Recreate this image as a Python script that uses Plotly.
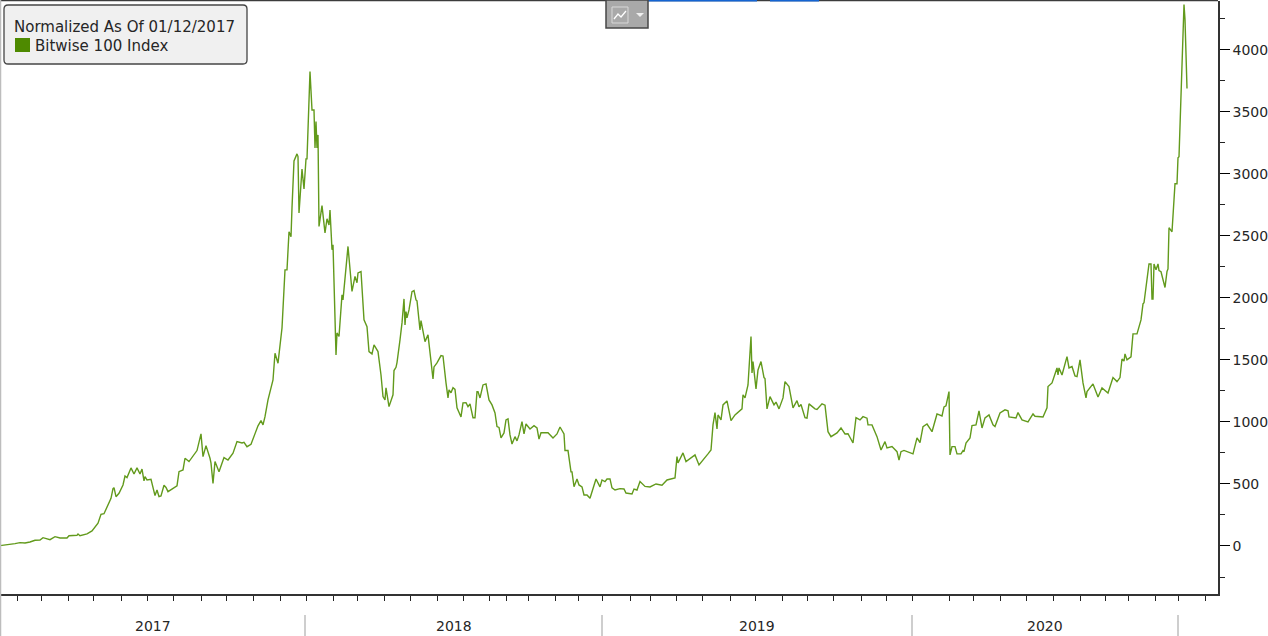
import plotly.graph_objects as go

# Positions along the session axis, and the index level at each of them
session_pos = [
    0, 3, 15, 20, 25, 30, 35, 40, 43, 50, 55, 60, 67, 69, 77, 78, 80, 87, 92, 98,
    101, 104, 108, 111, 113, 114, 116, 119, 123, 125, 127, 131, 134, 137, 140, 142, 144, 145, 147, 151,
    155, 157, 159, 161, 164, 166, 168, 177, 179, 183, 185, 189, 197, 201, 203, 206, 210, 211, 213, 215,
    219, 224, 228, 233, 237, 242, 244, 247, 251, 257, 258, 261, 263, 265, 268, 273, 275, 278, 282, 285,
    287, 289, 291, 292, 294, 297, 298, 299, 302, 304, 306, 307, 309, 310, 312, 314, 315, 316, 317, 318,
    319, 322, 325, 327, 329, 330, 332, 333, 336, 337, 339, 342, 343, 346, 348, 352, 355, 357, 358, 361,
    364, 367, 369, 372, 374, 378, 381, 383, 385, 386, 388, 389, 393, 394, 396, 397, 400, 402, 404, 405,
    406, 407, 409, 412, 414, 416, 417, 420, 421, 423, 425, 428, 433, 434, 437, 441, 443, 446, 448, 449,
    451, 453, 455, 457, 459, 461, 463, 466, 468, 470, 473, 475, 477, 478, 480, 483, 486, 489, 492, 495,
    497, 499, 501, 504, 506, 508, 510, 512, 515, 517, 519, 522, 524, 526, 530, 534, 537, 539, 541, 548,
    553, 557, 560, 564, 565, 568, 571, 572, 574, 577, 579, 582, 584, 587, 590, 592, 596, 600, 602, 605,
    607, 610, 612, 615, 620, 624, 626, 632, 634, 637, 640, 645, 650, 656, 662, 667, 675, 677, 678, 683,
    686, 695, 699, 708, 711, 713, 715, 717, 718, 721, 723, 727, 731, 735, 742, 743, 745, 748, 751, 752,
    753, 756, 758, 761, 764, 765, 767, 770, 774, 776, 779, 783, 785, 789, 793, 797, 799, 801, 805, 807,
    809, 815, 817, 822, 825, 828, 831, 837, 841, 845, 848, 853, 856, 860, 863, 867, 868, 872, 877, 881,
    885, 887, 892, 897, 899, 901, 904, 913, 917, 920, 923, 927, 932, 937, 942, 944, 946, 949, 950, 952,
    955, 957, 961, 963, 964, 966, 970, 972, 976, 979, 982, 985, 989, 993, 995, 1000, 1005, 1008, 1009, 1016,
    1018, 1022, 1028, 1033, 1035, 1043, 1047, 1048, 1052, 1057, 1058, 1059, 1062, 1067, 1069, 1072, 1075, 1077, 1080, 1083,
    1086, 1087, 1093, 1098, 1102, 1108, 1113, 1117, 1120, 1122, 1124, 1125, 1127, 1131, 1133, 1137, 1141, 1143, 1144, 1149,
    1151, 1152, 1153, 1154, 1156, 1158, 1159, 1161, 1163, 1165, 1167, 1168, 1169, 1172, 1174, 1175, 1177, 1178, 1179, 1181,
    1183, 1184, 1185, 1187,
]
index_level = [
    3, 5, 19, 27, 24, 32, 46, 48, 67, 51, 75, 64, 64, 83, 86, 97, 83, 97, 121, 183,
    255, 260, 330, 384, 462, 470, 397, 425, 492, 564, 551, 629, 580, 629, 580, 620, 524, 559, 532, 538,
    406, 451, 398, 403, 489, 472, 438, 484, 599, 613, 707, 680, 769, 903, 720, 809, 707, 667, 505, 680,
    599, 712, 693, 747, 841, 830, 836, 800, 820, 949, 968, 1010, 976, 1042, 1177, 1338, 1553, 1473, 1757, 2225,
    2225, 2533, 2493, 2725, 3103, 3160, 3138, 2684, 3038, 2877, 3120, 3120, 3703, 3823, 3514, 3514, 3208, 3420, 3208, 3313,
    2575, 2743, 2523, 2637, 2587, 2708, 2387, 2427, 1540, 1717, 1688, 2024, 1983, 2281, 2414, 2051, 2172, 2121, 2201, 2212,
    1822, 1768, 1567, 1548, 1620, 1567, 1378, 1204, 1177, 1274, 1164, 1123, 1218, 1414, 1440, 1478, 1661, 1798, 1991, 1782,
    1889, 1838, 1902, 2050, 2058, 1983, 1975, 1741, 1816, 1728, 1647, 1701, 1346, 1443, 1475, 1534, 1531, 1314, 1193, 1258,
    1235, 1276, 1262, 1113, 1072, 1040, 1153, 1155, 1123, 1145, 1034, 1034, 1244, 1244, 1193, 1298, 1306, 1177, 1137, 1072,
    962, 955, 871, 911, 1016, 1024, 895, 822, 881, 847, 895, 1002, 903, 983, 943, 970, 951, 862, 913, 913,
    871, 903, 959, 903, 769, 769, 597, 597, 478, 540, 492, 476, 411, 411, 384, 438, 540, 476, 532, 519,
    540, 540, 468, 451, 462, 459, 427, 419, 459, 451, 519, 480, 476, 500, 490, 532, 548, 720, 669, 750,
    680, 734, 653, 742, 774, 976, 1075, 943, 1056, 1016, 1137, 1169, 1010, 1056, 1105, 1218, 1193, 1298, 1688, 1394,
    1486, 1266, 1419, 1486, 1357, 1350, 1105, 1204, 1137, 1160, 1105, 1193, 1325, 1285, 1113, 1171, 1121, 1140, 1034, 1030,
    1145, 1105, 1100, 1145, 1135, 921, 881, 911, 951, 903, 905, 830, 1034, 1016, 1042, 1030, 976, 976, 881, 774,
    841, 790, 801, 760, 693, 760, 770, 742, 871, 833, 962, 983, 921, 1064, 1048, 1121, 1130, 1244, 734, 801,
    801, 742, 742, 769, 760, 830, 871, 970, 976, 1088, 951, 1032, 1056, 976, 962, 1072, 1097, 1090, 1040, 1032,
    1075, 1016, 1000, 1064, 1045, 1040, 1113, 1285, 1314, 1435, 1378, 1435, 1378, 1526, 1435, 1446, 1371, 1365, 1500, 1314,
    1193, 1244, 1306, 1201, 1274, 1233, 1357, 1325, 1357, 1507, 1490, 1548, 1500, 1524, 1709, 1709, 1822, 1951, 1960, 2273,
    2273, 1991, 1991, 2273, 2225, 2273, 2220, 2210, 2132, 2083, 2212, 2233, 2565, 2532, 2790, 2919, 2919, 3129, 3137, 3702,
    4137, 4363, 4242, 3686,
]

# Monthly tick marks and the boundaries between calendar years on the same axis
month_ticks = [
    17, 41, 68, 93, 121, 147, 173, 201, 226, 253, 280, 306, 333, 357, 384, 410, 437, 463, 489, 506,
    528, 555, 578, 602, 630, 650, 676, 702, 730, 755, 782, 807, 833, 861, 886, 912, 949, 973, 1000, 1026,
    1053, 1080, 1105, 1128, 1155, 1178, 1205,
]
year_edges = [0, 305, 602, 912, 1178]
year_labels = ["2017", "2018", "2019", "2020"]

major_y = [0, 500, 1000, 1500, 2000, 2500, 3000, 3500, 4000]
minor_y = [-250, 250, 750, 1250, 1750, 2250, 2750, 3250, 3750, 4250]

LINE = "#629a1c"
INK = "#262626"
FONT = "DejaVu Sans"
WIDTH, HEIGHT = 1268, 636
TOP, BOTTOM = 1, 594


def yp(py):
    """Convert a distance from the top of the page to a paper fraction."""
    return (BOTTOM - py) / (BOTTOM - TOP)


def box(x0, y0, x1, y1, **kw):
    return dict(type="rect", xref="x", yref="paper", x0=x0, x1=x1, y0=yp(y0), y1=yp(y1), **kw)


def seg(x0, y0, x1, y1, color, width=1):
    return dict(type="line", xref="x", yref="paper", x0=x0, x1=x1, y0=yp(y0), y1=yp(y1),
                line=dict(color=color, width=width))


fig = go.Figure()
fig.add_trace(go.Scatter(x=session_pos, y=index_level, mode="lines",
                         line=dict(color=LINE, width=1.4), hoverinfo="skip", showlegend=False))
# Pointer marks on the value axis at each labelled level
fig.add_trace(go.Scatter(x=[1222.5] * len(major_y), y=major_y, mode="markers", cliponaxis=False,
                         marker=dict(symbol="triangle-right", size=8, color="#000000"),
                         hoverinfo="skip", showlegend=False))

shapes = [
    seg(0, 0.5, WIDTH, 0.5, "#3c3c3c", 1.5),
    seg(629, 0.7, 757, 0.7, "#1464d2", 1.5),
    seg(770, 0.7, 819, 0.7, "#1464d2", 1.5),
    seg(0.5, 0, 0.5, HEIGHT, "#bdbdbd", 1.5),
    # Chart-type button
    box(606, 0, 648, 28, fillcolor="#a9a9a9", line=dict(color="#474747", width=1.5)),
    box(612, 7, 628, 23, fillcolor="rgba(0,0,0,0)", line=dict(color="#d8d8d8", width=1)),
    dict(type="path", xref="x", yref="paper",
         path=f"M 614 {yp(19)} L 618 {yp(14)} L 621 {yp(17)} L 626 {yp(11)}",
         line=dict(color="#ffffff", width=1.3)),
    dict(type="path", xref="x", yref="paper",
         path=f"M 636 {yp(13)} L 644 {yp(13)} L 640 {yp(17)} Z",
         fillcolor="#efefef", line=dict(color="#efefef", width=0)),
    # Legend panel
    dict(type="path", xref="x", yref="paper", fillcolor="#f0f0f0", line=dict(color="#454545", width=1.3),
         path=(f"M 8 {yp(5)} L 243 {yp(5)} Q 247 {yp(5)} 247 {yp(9)} L 247 {yp(60)} Q 247 {yp(64)} 243 {yp(64)} "
               f"L 8 {yp(64)} Q 4 {yp(64)} 4 {yp(60)} L 4 {yp(9)} Q 4 {yp(5)} 8 {yp(5)} Z")),
    box(15, 38, 30, 52, fillcolor="#4e8a00", line=dict(width=0)),
]
shapes += [seg(e, 615, e, HEIGHT, "#b4b4b4", 1.3) for e in year_edges[1:]]

annotations = [
    dict(text="Normalized As Of 01/12/2017", x=12, y=yp(26.5), xref="x", yref="paper", xanchor="left",
         yanchor="middle", showarrow=False, font=dict(family=FONT, size=15, color=INK)),
    dict(text="Bitwise 100 Index", x=33, y=yp(46), xref="x", yref="paper", xanchor="left",
         yanchor="middle", showarrow=False, font=dict(family=FONT, size=15, color=INK)),
]
for i, label in enumerate(year_labels):
    annotations.append(dict(text=label, x=(year_edges[i] + year_edges[i + 1]) / 2, y=yp(625.5),
                            xref="x", yref="paper", xanchor="center", yanchor="middle", showarrow=False,
                            font=dict(family=FONT, size=14, color=INK)))

fig.update_layout(
    width=WIDTH, height=HEIGHT, margin=dict(l=0, r=WIDTH - 1218, t=TOP, b=HEIGHT - BOTTOM, pad=0),
    paper_bgcolor="#ffffff", plot_bgcolor="#ffffff", showlegend=False,
    shapes=shapes, annotations=annotations,
    xaxis=dict(range=[0, 1218], tickmode="array", tickvals=month_ticks, ticktext=[""] * len(month_ticks),
               ticks="outside", ticklen=5, tickwidth=1, tickcolor="#222222", showgrid=False, zeroline=False,
               showline=True, linecolor="#333333", linewidth=1.5, fixedrange=True),
    yaxis=dict(side="right", range=[-387, 4392], tickmode="array", tickvals=major_y,
               ticktext=[str(v) for v in major_y], ticks="outside", ticklen=10, tickwidth=1, tickcolor="#000000",
               tickfont=dict(family=FONT, size=14, color=INK), showgrid=False, zeroline=False,
               showline=True, linecolor="#333333", linewidth=1.5, fixedrange=True,
               minor=dict(tickmode="array", tickvals=minor_y, ticks="outside", ticklen=5, tickwidth=1,
                          tickcolor="#222222", showgrid=False)),
)

fig.write_html("out.html", config=dict(displayModeBar=False))
